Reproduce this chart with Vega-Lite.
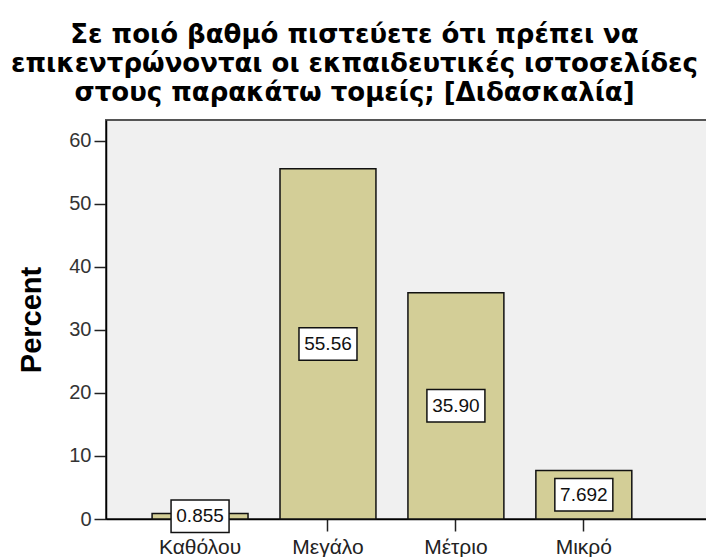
{
  "$schema": "https://vega.github.io/schema/vega-lite/v6.json",
  "autosize": "none",
  "padding": {"left": 106, "top": 120, "right": 0, "bottom": 38},
  "width": 601,
  "height": 399,
  "background": "white",
  "title": {
    "text": ["Σε ποιό βαθμό πιστεύετε ότι πρέπει να", "επικεντρώνονται οι εκπαιδευτικές ιστοσελίδες", "στους παρακάτω τομείς; [Διδασκαλία]"],
    "font": "DejaVu Sans",
    "fontSize": 26,
    "fontWeight": "bold",
    "color": "black",
    "lineHeight": 29,
    "anchor": "middle",
    "dx": -52,
    "offset": 14
  },
  "data": {
    "values": [
      {"cat": "Καθόλου", "value": 0.855, "label": "0.855"},
      {"cat": "Μεγάλο", "value": 55.56, "label": "55.56"},
      {"cat": "Μέτριο", "value": 35.90, "label": "35.90"},
      {"cat": "Μικρό", "value": 7.692, "label": "7.692"}
    ]
  },
  "transform": [{"calculate": "datum.value / 2", "as": "mid"}],
  "encoding": {
    "x": {
      "field": "cat",
      "type": "nominal",
      "sort": null,
      "scale": {"paddingInner": 0.25, "paddingOuter": 0.474, "align": 0.38},
      "axis": {
        "title": null,
        "labelAngle": 0,
        "labelFont": "Liberation Sans",
        "labelFontSize": 21,
        "labelColor": "#222",
        "labelPadding": 5,
        "domainColor": "black",
        "domainWidth": 1.5,
        "tickColor": "#222",
        "tickWidth": 1.5,
        "tickSize": 12
      }
    }
  },
  "layer": [
    {
      "mark": {"type": "bar", "fill": "#D3CE97", "stroke": "#111", "strokeWidth": 1.5},
      "encoding": {
        "y": {
          "field": "value",
          "type": "quantitative",
          "scale": {"domain": [0, 63.3], "nice": false},
          "axis": {
            "title": "Percent",
            "titleFont": "Liberation Sans",
            "titleFontSize": 29,
            "titleFontWeight": "bold",
            "titleColor": "black",
            "titlePadding": 22,
            "values": [0, 10, 20, 30, 40, 50, 60],
            "grid": false,
            "labelFont": "Liberation Sans",
            "labelFontSize": 20,
            "labelColor": "#333",
            "labelPadding": 3,
            "domainColor": "black",
            "domainWidth": 1.5,
            "tickColor": "#222",
            "tickWidth": 1.5,
            "tickSize": 12
          }
        }
      }
    },
    {
      "mark": {"type": "point", "shape": "M-1,-0.56L1,-0.56L1,0.56L-1,0.56Z", "size": 3364, "filled": true, "fill": "white", "stroke": "#111", "strokeWidth": 1.5, "opacity": 1},
      "encoding": {
        "y": {"field": "mid", "type": "quantitative"}
      }
    },
    {
      "mark": {"type": "text", "font": "Liberation Sans", "fontSize": 19, "color": "#111", "baseline": "middle", "align": "center"},
      "encoding": {
        "y": {"field": "mid", "type": "quantitative"},
        "text": {"field": "label"}
      }
    }
  ],
  "config": {
    "view": {"fill": "#F0F0F0", "stroke": "#555", "strokeWidth": 2}
  }
}
